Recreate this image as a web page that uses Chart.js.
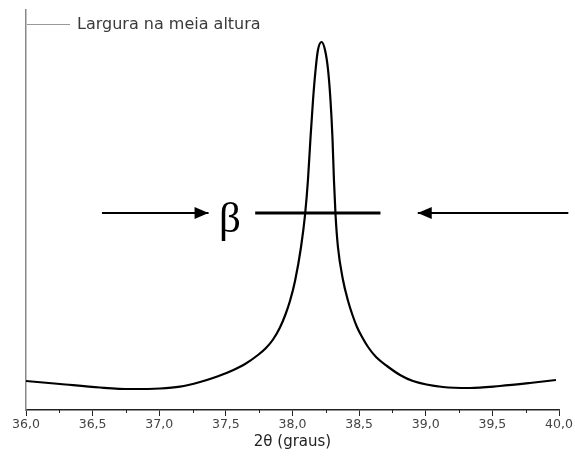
<!DOCTYPE html>
<html><head><meta charset="utf-8">
<script src="https://cdn.jsdelivr.net/npm/chart.js@4"></script>
<style>html,body{margin:0;padding:0;background:#fff}#wrap{width:575px;height:471px}</style>
</head><body><div id="wrap"><canvas id="c" width="575" height="471"></canvas></div>
<script>
// Diffraction peak (2θ in degrees, relative intensity)
const twoTheta = [36.000, 36.255, 36.555, 36.780, 37.006, 37.156, 37.306, 37.403, 37.531, 37.644, 37.741, 37.801, 37.854, 37.906, 37.947, 37.981, 38.019, 38.064, 38.094, 38.116, 38.135, 38.154, 38.173, 38.191, 38.218, 38.244, 38.267, 38.285, 38.300, 38.311, 38.323, 38.341, 38.379, 38.417, 38.450, 38.484, 38.522, 38.567, 38.627, 38.709, 38.807, 38.904, 39.129, 39.332, 39.557, 39.782, 39.977];
const intensity = [7.25, 6.5, 5.625, 5.25, 5.375, 5.825, 7.0, 8.0, 9.625, 11.5, 13.75, 15.5, 17.625, 20.625, 23.875, 27.25, 32.25, 40.75, 48.75, 57.5, 68, 77.5, 85, 90, 92, 90, 85, 77.5, 68, 57.5, 48.75, 40.75, 32.5, 27.25, 23.75, 20.75, 18.25, 15.75, 13.25, 11.0, 8.75, 7.25, 5.75, 5.5, 6.0, 6.75, 7.5];

const majorTicks = [36.0, 36.5, 37.0, 37.5, 38.0, 38.5, 39.0, 39.5, 40.0];
const tickLabels = ['36,0', '36,5', '37,0', '37,5', '38,0', '38,5', '39,0', '39,5', '40,0'];
const minorTicks = [36.25, 36.75, 37.25, 37.75, 38.25, 38.75, 39.25, 39.75];

// Annotation (half-maximum width β)
const halfMaxLevel = 49.25;
const halfLineX = [37.72, 38.66];
const leftArrowX = [36.57, 37.37];
const rightArrowX = [40.07, 38.94];
const betaPos = [37.53, 44.5];
const betaText = 'β';
const legendLabel = 'Largura na meia altura';
const axisTitle = '2θ (graus)';

const toXY = (xs, ys) => xs.map((x, i) => ({x: x, y: Array.isArray(ys) ? ys[i] : ys}));

const annotPlugin = {
  id: 'annot',
  afterDatasetsDraw(chart) {
    const ctx = chart.ctx, xs = chart.scales.x, ys = chart.scales.y, ca = chart.chartArea;
    ctx.save();
    // minor ticks
    ctx.strokeStyle = '#222'; ctx.lineWidth = 1;
    minorTicks.forEach(v => {
      const px = Math.round(xs.getPixelForValue(v)) + 0.5;
      ctx.beginPath(); ctx.moveTo(px, ca.bottom); ctx.lineTo(px, ca.bottom + 3); ctx.stroke();
    });
    // arrowheads
    const yA = ys.getPixelForValue(halfMaxLevel);
    ctx.fillStyle = '#000';
    const head = (tipX, dir) => {
      ctx.beginPath();
      ctx.moveTo(tipX, yA);
      ctx.lineTo(tipX - dir * 14, yA - 6);
      ctx.lineTo(tipX - dir * 14, yA + 6);
      ctx.closePath(); ctx.fill();
    };
    head(xs.getPixelForValue(leftArrowX[1]), 1);
    head(xs.getPixelForValue(rightArrowX[1]), -1);
    // beta
    ctx.font = '43px "Liberation Serif", "Times New Roman", serif';
    ctx.textAlign = 'center'; ctx.textBaseline = 'alphabetic';
    ctx.fillText(betaText, xs.getPixelForValue(betaPos[0]), ys.getPixelForValue(betaPos[1]));
    // legend
    const ly = ca.top + 14;
    ctx.strokeStyle = '#999'; ctx.lineWidth = 1;
    ctx.beginPath(); ctx.moveTo(ca.left + 1, ly + 0.5); ctx.lineTo(ca.left + 44, ly + 0.5); ctx.stroke();
    ctx.fillStyle = '#3a3a3a';
    ctx.font = '16px "DejaVu Sans", sans-serif';
    ctx.textAlign = 'left'; ctx.textBaseline = 'middle';
    ctx.fillText(legendLabel, ca.left + 51, ly + 1);
    ctx.restore();
  }
};

new Chart(document.getElementById('c'), {
  type: 'scatter',
  data: {
    datasets: [
      {data: toXY(twoTheta, intensity), showLine: true, borderColor: '#000', borderWidth: 2.2, pointRadius: 0, cubicInterpolationMode: 'monotone'},
      {data: toXY(halfLineX, halfMaxLevel), showLine: true, borderColor: '#000', borderWidth: 3, pointRadius: 0},
      {data: toXY(leftArrowX, halfMaxLevel), showLine: true, borderColor: '#000', borderWidth: 1.8, pointRadius: 0},
      {data: toXY(rightArrowX, halfMaxLevel), showLine: true, borderColor: '#000', borderWidth: 1.8, pointRadius: 0, clip: false}
    ]
  },
  options: {
    responsive: false, animation: false, devicePixelRatio: 1,
    layout: {padding: {left: 26, right: 16, top: 10, bottom: 0}},
    plugins: {legend: {display: false}, tooltip: {enabled: false}},
    scales: {
      x: {
        type: 'linear', min: 36, max: 40,
        afterBuildTicks: s => { s.ticks = majorTicks.map(v => ({value: v})); },
        afterFit: s => { s.height = 61; s.paddingLeft = 0; s.paddingRight = 0; },
        ticks: {callback: (v, i) => tickLabels[i], color: '#444', font: {family: 'DejaVu Sans', size: 12.5}, padding: 1, maxRotation: 0, autoSkip: false},
        grid: {display: true, drawOnChartArea: false, drawTicks: true, tickLength: 6, color: '#222'},
        border: {display: true, color: '#222', width: 1.5},
        title: {display: true, text: axisTitle, color: '#222', font: {family: 'DejaVu Sans', size: 15}, padding: {top: 4, bottom: 20}}
      },
      y: {
        min: 0, max: 100,
        afterFit: s => { s.width = 0; },
        ticks: {display: false},
        grid: {display: false},
        border: {display: true, color: '#888', width: 1.5}
      }
    }
  },
  plugins: [annotPlugin]
});
</script>
</body></html>
